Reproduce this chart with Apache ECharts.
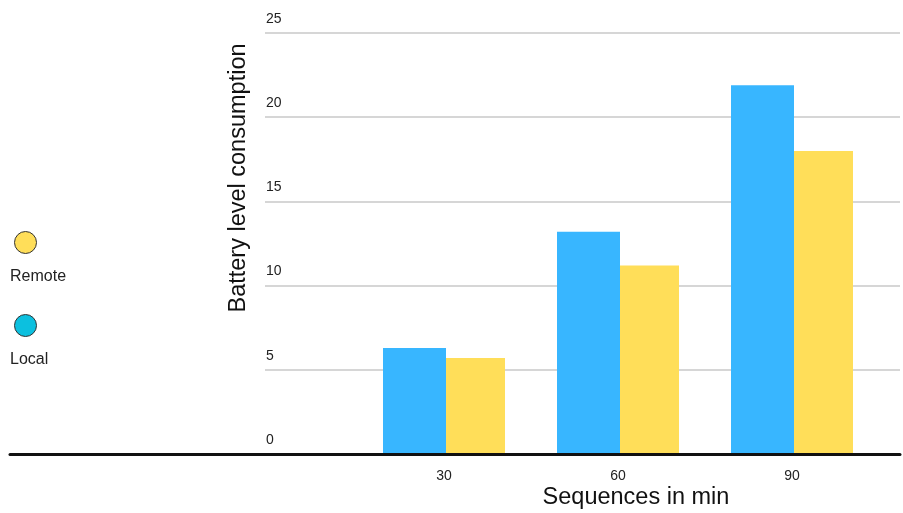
<!DOCTYPE html>
<html><head><meta charset="utf-8">
<script src="https://cdn.jsdelivr.net/npm/echarts@6/dist/echarts.min.js"></script>
<style>html,body{margin:0;padding:0;background:#fff}#c{width:903px;height:513px}</style>
</head><body><div id="c"></div>
<script>
const categories = ['30', '60', '90'];
const localValues = [6.3, 13.2, 21.9];
const remoteValues = [5.7, 11.2, 18.0];
const yTicks = [0, 5, 10, 15, 20, 25];
const seriesNames = ['Local', 'Remote'];
const legendNames = ['Remote', 'Local'];
const xTitle = 'Sequences in min';
const yTitle = 'Battery level consumption';

const FONT = '"Liberation Sans", Arial, sans-serif';
const chart = echarts.init(document.getElementById('c'));
const option = {
  animation: false,
  textStyle: { fontFamily: FONT },
  grid: [
    { left: 265, right: 3, top: 33, bottom: 59 },
    { left: 357, right: 24, top: 33, bottom: 59 },
    { left: 10, right: 3, top: 33, bottom: 59 }
  ],
  legend: {
    orient: 'vertical', left: 9, top: 226,
    itemWidth: 22, itemHeight: 22, itemGap: 60, icon: 'circle',
    formatter: () => '',
    selectedMode: false,
    data: [
      { name: legendNames[0], itemStyle: { color: '#ffde59', borderColor: '#333', borderWidth: 1 } },
      { name: legendNames[1], itemStyle: { color: '#0cc0df', borderColor: '#333', borderWidth: 1 } }
    ]
  },
  xAxis: [
    { gridIndex: 0, type: 'value', show: false, min: 0, max: 1 },
    { gridIndex: 1, type: 'category', data: categories,
      axisLine: { show: false }, axisTick: { show: false },
      axisLabel: { margin: 15, fontSize: 14, color: '#222', fontFamily: FONT } },
    { gridIndex: 2, type: 'value', min: 0, max: 1, z: 10,
      axisLine: { show: true, onZero: false, lineStyle: { color: '#111', width: 3 } },
      axisTick: { show: false }, axisLabel: { show: false }, splitLine: { show: false } }
  ],
  yAxis: [
    { gridIndex: 0, type: 'value', min: yTicks[0], max: yTicks[yTicks.length - 1], interval: 5,
      axisLine: { show: false }, axisTick: { show: false },
      splitLine: { lineStyle: { color: '#c8c8c8', width: 1.5 } },
      axisLabel: { inside: true, align: 'left', verticalAlign: 'bottom', margin: 1,
        padding: [0, 0, 7, 0], fontSize: 14, color: '#222', fontFamily: FONT } },
    { gridIndex: 1, type: 'value', min: 0, max: 25, show: false },
    { gridIndex: 2, type: 'value', min: 0, max: 25, show: false }
  ],
  series: [
    { name: seriesNames[0], type: 'bar', xAxisIndex: 1, yAxisIndex: 1, data: localValues,
      barWidth: 63, barGap: '0%', itemStyle: { color: '#38b6ff' } },
    { name: seriesNames[1], type: 'bar', xAxisIndex: 1, yAxisIndex: 1, data: remoteValues,
      barWidth: 59, barGap: '0%', itemStyle: { color: '#ffde59' } }
  ],
  graphic: [
    { type: 'text', left: 10, top: 269, style: { text: legendNames[0], fontSize: 16, fill: '#222', fontFamily: FONT } },
    { type: 'text', left: 10, top: 352, style: { text: legendNames[1], fontSize: 16, fill: '#222', fontFamily: FONT } },
    { type: 'text', x: 636, y: 498, style: { text: xTitle, fontSize: 23.5, fill: '#111', fontFamily: FONT, align: 'center', verticalAlign: 'middle' } },
    { type: 'text', x: 239, y: 178, rotation: Math.PI / 2, style: { text: yTitle, fontSize: 23.5, fill: '#111', fontFamily: FONT, align: 'center', verticalAlign: 'middle' } }
  ]
};
chart.setOption(option);
</script></body></html>
